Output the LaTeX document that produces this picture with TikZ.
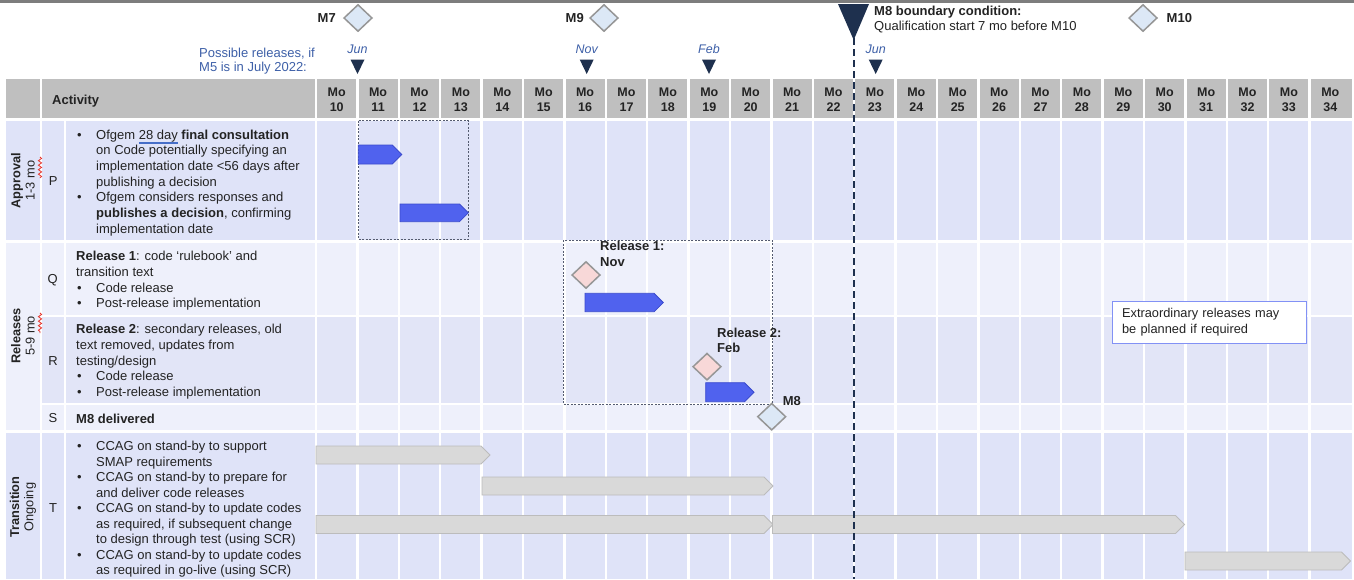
\documentclass[tikz,border=0pt]{standalone}
\usepackage{fontspec}
\setmainfont{Liberation Sans}
\usetikzlibrary{shapes.geometric,decorations.pathmorphing}
\definecolor{topgray}{RGB}{125,125,125}
\definecolor{hdrgray}{RGB}{191,191,191}
\definecolor{lavA}{RGB}{223,227,248}
\definecolor{lavB}{RGB}{238,240,251}
\definecolor{lavR}{RGB}{226,229,247}
\definecolor{navy}{RGB}{30,48,78}
\definecolor{relblue}{RGB}{62,96,168}
\definecolor{msblue}{RGB}{220,232,246}
\definecolor{pinkf}{RGB}{248,216,216}
\definecolor{dgray}{RGB}{150,150,150}
\definecolor{barblue}{RGB}{80,98,238}
\definecolor{barblueb}{RGB}{58,74,205}
\definecolor{gbarf}{RGB}{217,217,217}
\definecolor{gbarb}{RGB}{188,188,188}
\definecolor{dboxc}{RGB}{85,92,112}
\definecolor{exbord}{RGB}{130,145,245}
\definecolor{txtc}{RGB}{35,35,35}
\definecolor{ulblue}{RGB}{70,110,200}
\definecolor{squigred}{RGB}{230,50,40}
\newsavebox\myulbox
\newcommand\myblueul[1]{\sbox\myulbox{#1}\rlap{\textcolor{ulblue}{\rule[-4.6pt]{\wd\myulbox}{1.3pt}}}\usebox\myulbox}
\newcommand\bul{\makebox[20pt][l]{\hspace{1pt}\textbullet}}
\newcommand\ind{\hspace*{20pt}}
\newcommand\mybar[5]{%
  \pgfmathsetmacro\mytiplen{(#5-#4)/2}%
  \draw[#1] (#2,#4) -- ({#3-\mytiplen},#4) -- (#3,{(#4+#5)/2}) -- ({#3-\mytiplen},#5) -- (#2,#5) -- cycle;}
\tikzset{
  body/.style={font=\fontsize{13}{15.7}\selectfont, align=left, inner sep=0pt, text=txtc},
  bodyT/.style={font=\fontsize{13}{15.5}\selectfont, align=left, inner sep=0pt, text=txtc},
  lab/.style={font=\fontsize{13}{15.7}\selectfont, inner sep=0pt, text=txtc},
  blab/.style={font=\fontsize{13}{15.7}\selectfont\bfseries, inner sep=0pt, text=txtc},
  hdrtxt/.style={font=\fontsize{12.5}{15}\selectfont\bfseries, inner sep=0pt, text=txtc, align=center},
  sect/.style={rotate=90, align=center, inner sep=0pt, font=\fontsize{12.8}{14.3}\selectfont, text=txtc},
  mon/.style={font=\fontsize{12.5}{15}\selectfont\itshape, text=relblue, inner sep=0pt, anchor=base},
  reltext/.style={font=\fontsize{13}{15}\selectfont, text=relblue, inner sep=0pt, anchor=base west},
  dia/.style={diamond, draw=dgray, line width=1.5pt, minimum width=28.5pt, minimum height=27pt, inner sep=0pt, fill=msblue},
  bbar/.style={fill=barblue, draw=barblueb, line width=0.8pt},
  gbar/.style={fill=gbarf, draw=gbarb, line width=0.8pt},
  dbox/.style={draw=dboxc, line width=0.9pt, dash pattern=on 2pt off 1.5pt},
  squig/.style={draw=squigred, line width=0.8pt, decorate, decoration={snake, amplitude=1.6pt, segment length=4.5pt}},
  marktri/.style={fill=navy},
}
\begin{document}
\begin{tikzpicture}[x=1pt,y=-1pt]
\useasboundingbox (0,0) rectangle (1354,579);
\fill[white] (0,0) rectangle (1354,579);
\fill[topgray] (0,0) rectangle (1354,2.6);
% header and row bands
\fill[hdrgray] (6,78.5) rectangle (1351.5,117.5);
\fill[lavA] (6,120.7) rectangle (1351.5,240);
\fill[lavB] (6,243) rectangle (1351.5,315.2);
\fill[lavB] (6,315) rectangle (41,430);
\fill[lavR] (41,316.6) rectangle (1351.5,403);
\fill[lavB] (41,405) rectangle (1351.5,430);
\fill[lavA] (6,433) rectangle (1351.5,579);
% grid lines
\foreach \k in {0,...,24} \fill[white] ({316+41.4*\k-1.2},78) rectangle ({316+41.4*\k+1.2},579);
\fill[white] (40,78) rectangle (42,579);
\fill[white] (64.3,118) rectangle (65.9,579);
% header text
\node[hdrtxt, font=\fontsize{13}{15}\selectfont\bfseries, anchor=base west] (act) at (52,104) {Activity};
\foreach \k in {0,...,24} {
  \pgfmathtruncatemacro\mo{\k+10}
  \node[hdrtxt] (mo\mo) at ({316+41.4*(\k+0.5)},99.3) {Mo\\\mo};
}
% section labels
\node[sect] (sapp) at (23,180.5) {\textbf{Approval}\\1-3 mo};
\node[sect] (srel) at (23,336) {\textbf{Releases}\\5-9 mo};
\node[sect] (stra) at (23,507) {\textbf{Transition}\\Ongoing};
\draw[squig] (40,157) -- (40,178);
\draw[squig] (40,313) -- (40,333);
% letters
\node[lab, anchor=base] (lp) at (53.3,185) {P};
\node[lab, anchor=base] (lq) at (52.8,283.3) {Q};
\node[lab, anchor=base] (lr) at (53,365.7) {R};
\node[lab, anchor=base] (ls) at (53,422.8) {S};
\node[lab, anchor=base] (lt) at (53,512) {T};
% activity texts
\node[body, anchor=north west] (tp) at (76,128) {\strut\bul Ofgem \myblueul{28 day} \textbf{final consultation}\\
\ind on Code potentially specifying an\\
\ind implementation date <56 days after\\
\ind publishing a decision\\
\bul Ofgem considers responses and\\
\ind\textbf{publishes a decision}, confirming\\
\ind implementation date};
\node[body, anchor=north west] (tq) at (76,249.5) {\strut\textbf{Release 1}: code ‘rulebook’ and\\
transition text\\
\bul Code release\\
\bul Post-release implementation};
\node[body, anchor=north west] (tr) at (76,322.5) {\strut\textbf{Release 2}: secondary releases, old\\
text removed, updates from\\
testing/design\\
\bul Code release\\
\bul Post-release implementation};
\node[blab, anchor=base west] (ts) at (76,423) {M8 delivered};
\node[bodyT, anchor=north west] (tt) at (76,439.85) {\strut\bul CCAG on stand-by to support\\
\ind SMAP requirements\\
\bul CCAG on stand-by to prepare for\\
\ind and deliver code releases\\
\bul CCAG on stand-by to update codes\\
\ind as required, if subsequent change\\
\ind to design through test (using SCR)\\
\bul CCAG on stand-by to update codes\\
\ind as required in go-live (using SCR)};
% top milestones
\node[blab, anchor=base east] (lm7) at (336,22.7) {M7};
\node[dia] (m7) at (358,18) {};
\node[blab, anchor=base east] (lm9) at (584,22.7) {M9};
\node[dia] (m9) at (604,18) {};
\node[dia] (m10) at (1143,18) {};
\node[blab, anchor=base west] (lm10) at (1166.5,22.7) {M10};
\node[blab, anchor=base west] (lm8a) at (874,15) {M8 boundary condition:};
\node[lab, anchor=base west] (lm8b) at (874,30) {Qualification start 7 mo before M10};
% possible releases
\node[reltext] (poss1) at (199,57) {Possible releases, if};
\node[reltext] (poss2) at (199,71.7) {M5 is in July 2022:};
\node[mon] (jun1) at (357.5,53.3) {Jun};
\node[mon] (nov) at (586.7,53.3) {Nov};
\node[mon] (feb) at (709,53.3) {Feb};
\node[mon] (jun2) at (875.7,53.3) {Jun};
\foreach \cx in {357.5,586.7,709,875.7} \fill[marktri] ({\cx-7},59.5) -- ({\cx+7},59.5) -- (\cx,74) -- cycle;
% dashed boxes
\draw[dbox] (358.3,120.7) rectangle (468.3,239.5);
\draw[dbox] (563.3,240) rectangle (772.3,404);
% bars
\mybar{bbar}{358.3}{401.7}{145}{164}
\mybar{bbar}{400}{468.3}{204}{221.7}
\mybar{bbar}{585}{663.3}{293.3}{311.7}
\mybar{bbar}{705.7}{754}{382.7}{401.7}
\mybar{gbar}{316}{490}{446}{464}
\mybar{gbar}{482}{773}{477}{495}
\mybar{gbar}{316}{773}{515.5}{533.5}
\mybar{gbar}{772.5}{1184.5}{515.5}{533.5}
\mybar{gbar}{1185}{1350.5}{552}{570}
% release milestones
\node[blab, anchor=base west] (r1a) at (600,250.7) {Release 1:};
\node[blab, anchor=base west] (r1b) at (600,266) {Nov};
\node[blab, anchor=base west] (r2a) at (717,337.7) {Release 2:};
\node[blab, anchor=base west] (r2b) at (717,352.3) {Feb};
\node[dia, fill=pinkf] (d1) at (586,275) {};
\node[dia, fill=pinkf] (d2) at (707,366.7) {};
\node[dia] (dm8) at (771.7,416.7) {};
\node[blab, anchor=base west] (lm8) at (782.7,405.7) {M8};
% M8 boundary marker
\fill[navy] (838,4) -- (869,4) -- (853.7,40) -- cycle;
\coordinate (m8top) at (854,38);
\coordinate (m8bot) at (854,579);
\draw[navy, line width=2pt, dash pattern=on 7pt off 4pt] (m8top) -- (m8bot);
% note box
\node[draw=exbord, line width=1pt, fill=white, anchor=north west, text width=175pt, inner xsep=9.3pt, inner ysep=0pt, minimum height=42pt, align=left, font=\fontsize{12.8}{15.6}\selectfont, text=txtc] (extra) at (1112.3,300.7) {Extraordinary releases may\\be planned if required};
\end{tikzpicture}
\end{document}
